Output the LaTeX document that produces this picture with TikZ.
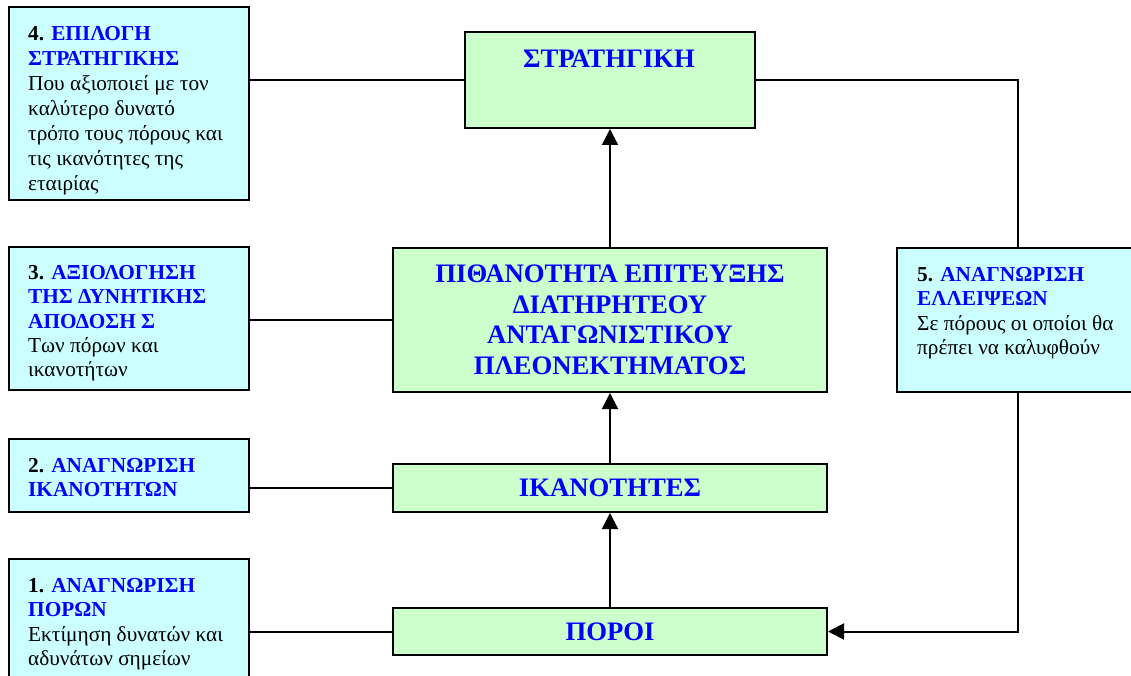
\documentclass[tikz,border=0pt]{standalone}
\usepackage{fontspec}
\setmainfont{Liberation Serif}
\usetikzlibrary{arrows.meta}
\definecolor{cyanfill}{HTML}{CCFFFF}
\definecolor{greenfill}{HTML}{CCFFCC}
\definecolor{headblue}{HTML}{0000FF}
\tikzset{
  sidebox/.style={draw=black, line width=2pt, fill=cyanfill, anchor=north west, inner sep=0pt},
  mainbox/.style={draw=black, line width=2pt, fill=greenfill, anchor=north west, inner sep=0pt,
    font=\fontsize{26.7}{30.5}\selectfont\bfseries, text=headblue, align=center},
  sidetext/.style={anchor=north west, inner sep=0pt, align=left, font=\fontsize{21.3}{24.4}\selectfont},
  conn/.style={line width=2pt, line cap=rect},
  arr/.style={line width=2pt, -{Triangle[width=16pt,length=16pt]}}
}
\newcommand{\hd}[1]{\textbf{\textcolor{headblue}{#1}}}
\begin{document}
\begin{tikzpicture}[x=1pt,y=-1pt]
\useasboundingbox (0,0) rectangle (1131,676);
\clip (0,0) rectangle (1131,676);
% side boxes
\node[sidebox, minimum width=240pt, minimum height=193pt] (b4) at (8,6) {};
\node[sidebox, minimum width=240pt, minimum height=143pt] (b3) at (8,246) {};
\node[sidebox, minimum width=240pt, minimum height=73pt] (b2) at (8,438) {};
\node[sidebox, minimum width=240pt, minimum height=140pt] (b1) at (8,558) {};
\node[sidebox, minimum width=242pt, minimum height=144pt] (b5) at (896,247) {};
% main boxes
\node[mainbox, minimum width=290pt, minimum height=96pt] (strat) at (464,31) {};
\node[mainbox, minimum width=434pt, minimum height=144pt] (pith) at (392,247)
  {ΠΙΘΑΝΟΤΗΤΑ ΕΠΙΤΕΥΞΗΣ\\ΔΙΑΤΗΡΗΤΕΟΥ\\ΑΝΤΑΓΩΝΙΣΤΙΚΟΥ\\ΠΛΕΟΝΕΚΤΗΜΑΤΟΣ};
\node[mainbox, minimum width=434pt, minimum height=48pt] (ikan) at (392,463) {ΙΚΑΝΟΤΗΤΕΣ};
\node[mainbox, minimum width=434pt, minimum height=47pt] (poroi) at (392,607) {ΠΟΡΟΙ};
\node[font=\fontsize{26.7}{30}\selectfont\bfseries, text=headblue, inner sep=0pt] (stratlbl) at (609,59) {ΣΤΡΑΤΗΓΙΚΗ};
% side texts
\node[sidetext, font=\fontsize{21.3}{25.1}\selectfont] (t4) at (28,26) {\textbf{4.} \hd{ΕΠΙΛΟΓΗ}\\\hd{ΣΤΡΑΤΗΓΙΚΗΣ}\\Που αξιοποιεί με τον\\καλύτερο δυνατό\\τρόπο τους πόρους και\\τις ικανότητες της\\εταιρίας};
\node[sidetext] (t3) at (28,265) {\textbf{3.} \hd{ΑΞΙΟΛΟΓΗΣΗ}\\\hd{ΤΗΣ ΔΥΝΗΤΙΚΗΣ}\\\hd{ΑΠΟΔΟΣΗ Σ}\\Των πόρων και\\ικανοτήτων};
\node[sidetext] (t2) at (28,458) {\textbf{2.} \hd{ΑΝΑΓΝΩΡΙΣΗ}\\\hd{ΙΚΑΝΟΤΗΤΩΝ}};
\node[sidetext] (t1) at (28,578) {\textbf{1.} \hd{ΑΝΑΓΝΩΡΙΣΗ}\\\hd{ΠΟΡΩΝ}\\Εκτίμηση δυνατών και\\αδυνάτων σημείων};
\node[sidetext] (t5) at (917,267) {\textbf{5.} \hd{ΑΝΑΓΝΩΡΙΣΗ}\\\hd{ΕΛΛΕΙΨΕΩΝ}\\Σε πόρους οι οποίοι θα\\πρέπει να καλυφθούν};
% connectors
\draw[conn] (strat.west -| b4.east) -- (strat.west);
\draw[conn] (pith.west -| b3.east) -- (pith.west);
\draw[conn] (ikan.west -| b2.east) -- (ikan.west);
\draw[conn] (poroi.west -| b1.east) -- (poroi.west);
\draw[conn] (strat.east) -| (b5.north);
\draw[arr] (b5.south) |- (poroi.east);
\draw[arr] (poroi.north) -- (ikan.south);
\draw[arr] (ikan.north) -- (pith.south);
\draw[arr] (pith.north) -- (strat.south);
\end{tikzpicture}
\end{document}
